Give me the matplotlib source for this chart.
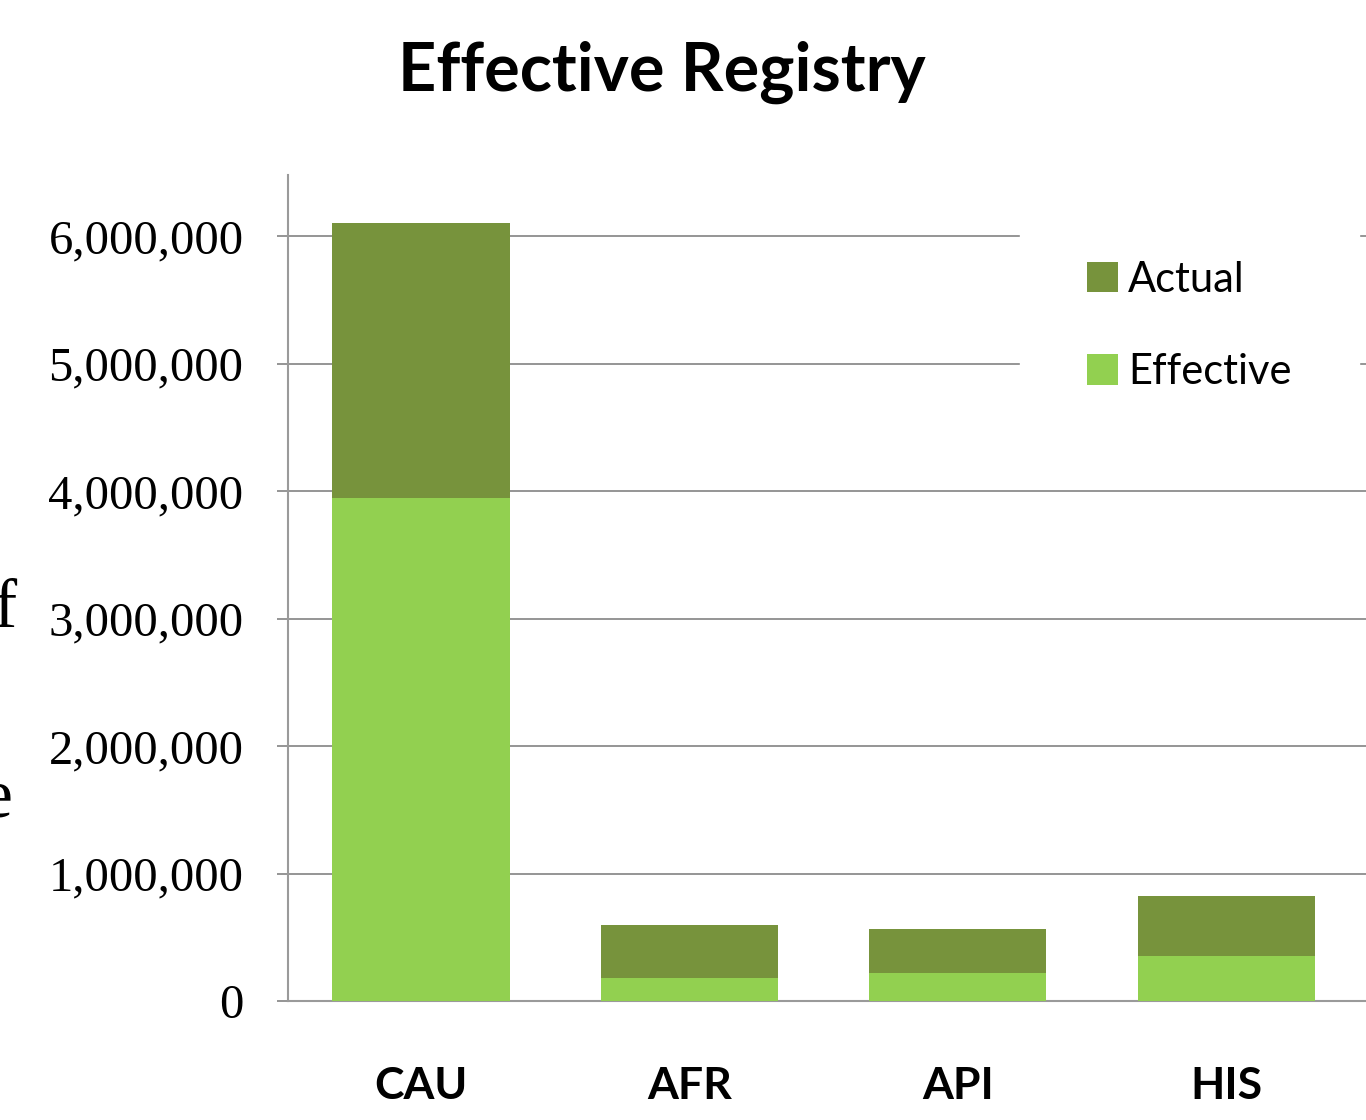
import matplotlib.pyplot as plt
from matplotlib.ticker import FuncFormatter

groups = ['CAU', 'AFR', 'API', 'HIS']
effective = [3945000, 180000, 220000, 355000]
actual = [6100000, 600000, 565000, 820000]
yticks = [0, 1000000, 2000000, 3000000, 4000000, 5000000, 6000000]

c_actual = '#77933C'
c_effective = '#92D050'

fig = plt.figure(figsize=(13.66, 11.2), dpi=100)
ax = fig.add_axes([288/1366, 119/1120, 1 - 288/1366, (1001 - 175)/1120])

x = range(len(groups))
top = [a - e for a, e in zip(actual, effective)]
ax.bar(x, effective, width=0.66, color=c_effective, label='Effective', zorder=3)
ax.bar(x, top, width=0.66, bottom=effective, color=c_actual, label='Actual', zorder=3)

ax.set_xlim(-0.495, 3.52)
ax.set_ylim(0, 6480000)
ax.set_yticks(yticks)
ax.yaxis.set_major_formatter(FuncFormatter(lambda v, p: f'{int(v):,}'))
ax.grid(axis='y', color='#8c8c8c', linewidth=1.3, zorder=0)

for s in ['top', 'right']:
    ax.spines[s].set_visible(False)
for s in ['left', 'bottom']:
    ax.spines[s].set_color('#9a9a9a')
    ax.spines[s].set_linewidth(1.5)

ax.tick_params(axis='y', length=8, color='#8c8c8c', width=1.3, pad=24)
ax.tick_params(axis='x', length=0, pad=47)
ax.set_xticks(list(x))
ax.set_xticklabels(groups, fontfamily='Lato', fontweight='bold', fontsize=32)
for lab in ax.get_yticklabels():
    lab.set_fontfamily('Liberation Serif')
    lab.set_fontsize(35)

h, l = ax.get_legend_handles_labels()
leg = ax.legend(h[::-1], l[::-1], loc='upper left', bbox_to_anchor=(1020/1366, 1 - 194/1120),
                bbox_transform=fig.transFigure, frameon=True, fancybox=False,
                edgecolor='white', framealpha=1, prop={'family': 'Lato', 'size': 30},
                handlelength=0.75, handleheight=0.75, handletextpad=0.25, labelspacing=1.3,
                borderpad=1.6, borderaxespad=0)
leg.set_zorder(5)

fig.text(662/1366, 1 - 72/1120, 'Effective Registry', ha='center', va='center',
         fontfamily='Lato', fontweight='bold', fontsize=48)

# cut-off letters at the left edge
fig.text(17/1366, 1 - 610/1120, 'f', ha='right', va='center',
         fontfamily='Liberation Serif', fontsize=50)
fig.text(12/1366, 1 - 800/1120, 'e', ha='right', va='center',
         fontfamily='Liberation Serif', fontsize=50)

fig.savefig('out.png', dpi=100)
